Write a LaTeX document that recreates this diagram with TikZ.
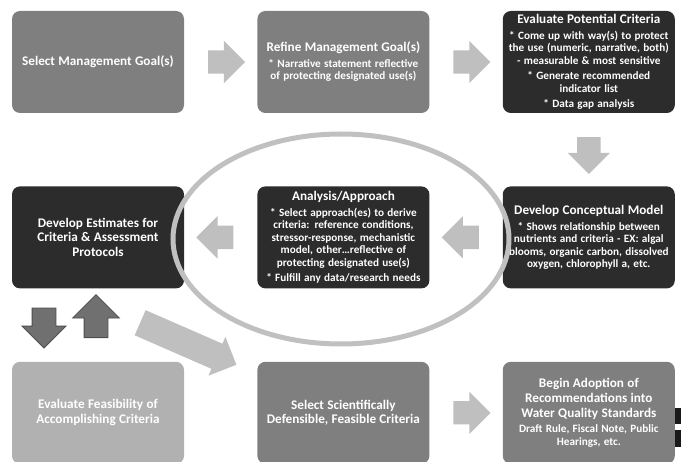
\documentclass[tikz,border=0pt]{standalone}
\usepackage{fontspec}
\setmainfont{Carlito}
\usetikzlibrary{shapes.arrows,positioning,calc}
\definecolor{stepmid}{HTML}{7F7F7F}
\definecolor{stepdark}{HTML}{2C2C2C}
\definecolor{steplight}{HTML}{B1B1B1}
\definecolor{flowgray}{HTML}{BFBFBF}
\definecolor{loopgray}{HTML}{707070}
\definecolor{loopedge}{HTML}{4D4D4D}
\definecolor{ringgray}{HTML}{C0C0C0}
\newcommand{\titlefont}{\bfseries\fontsize{13.2}{14.8}\selectfont}
\newcommand{\notefont}{\bfseries\fontsize{11.2}{12.5}\selectfont}
\newcommand{\steptitle}[1]{{\titlefont #1\par}}
\newcommand{\stepnote}[1]{{\notefont\vspace{3pt}#1\par}}
\tikzset{
  stepbox/.style={
    rectangle, rounded corners=8pt, minimum width=172pt, minimum height=102pt,
    inner sep=2pt, text width=168pt, align=center, text=white
  },
  midbox/.style={stepbox, fill=stepmid},
  darkbox/.style={stepbox, fill=stepdark},
  lightbox/.style={stepbox, fill=steplight},
  flowarrow/.style={
    single arrow, fill=flowgray, draw=none, inner sep=11.5pt,
    single arrow head extend=9.5pt, minimum height=37pt
  },
  looparrow/.style={
    single arrow, fill=loopgray, draw=loopedge, line width=0.8pt, inner sep=11.5pt,
    single arrow head extend=10pt, minimum height=40pt
  },
  ring/.style={draw=ringgray, line width=5pt}
}

\begin{document}
\begin{tikzpicture}[x=1pt,y=-1pt,node distance=73pt]
\useasboundingbox (0,0) rectangle (681,462);
\node[midbox] (selgoal) at (98,62) {\steptitle{Select Management Goal(s)}};
\node[midbox, right=of selgoal] (refgoal) {\steptitle{Refine Management Goal(s)}\stepnote{* Narrative statement reflective\\of protecting designated use(s)}};
\node[darkbox, right=of refgoal] (evalcrit) {\steptitle{Evaluate Potential Criteria}\stepnote{* Come up with way(s) to protect\\the use (numeric, narrative, both)\\- measurable \& most sensitive}\stepnote{* Generate recommended\\indicator list}\stepnote{* Data gap analysis}};
\node[darkbox, below=of selgoal] (devest) {\steptitle{Develop Estimates for\\Criteria \& Assessment\\Protocols}};
\node[darkbox, below=of refgoal] (analysis) {\steptitle{Analysis/Approach}\stepnote{* Select approach(es) to derive\\criteria: reference conditions,\\stressor-response, mechanistic\\model, other…reflective of\\protecting designated use(s)}\stepnote{* Fulfill any data/research needs}};
\node[darkbox, below=of evalcrit] (concept) {\steptitle{Develop Conceptual Model}\stepnote{* Shows relationship between\\nutrients and criteria - EX: algal\\blooms, organic carbon, dissolved\\oxygen, chlorophyll a, etc.}};
\node[lightbox, below=of devest] (feas) {\steptitle{Evaluate Feasibility of\\Accomplishing Criteria}};
\node[midbox, below=of analysis] (scidef) {\steptitle{Select Scientifically\\Defensible, Feasible Criteria}};
\node[midbox, below=of concept] (adopt) {\steptitle{Begin Adoption of\\Recommendations into\\Water Quality Standards}\stepnote{Draft Rule, Fiscal Note, Public\\Hearings, etc.}};
\node[flowarrow] (a1) at ($(selgoal.east)!0.5!(refgoal.west)$) {};
\node[flowarrow] (a2) at ($(refgoal.east)!0.5!(evalcrit.west)$) {};
\node[flowarrow, shape border rotate=270] (a3) at ($(evalcrit.south)!0.5!(concept.north)$) {};
\node[flowarrow, shape border rotate=180] (a4) at ($(concept.west)!0.5!(analysis.east)$) {};
\node[flowarrow, shape border rotate=180] (a5) at ($(analysis.west)!0.5!(devest.east)$) {};
\node[flowarrow] (a6) at ($(scidef.east)!0.5!(adopt.west)$) {};
\node[looparrow, shape border rotate=270] (down) at ($(devest.south)!0.5!(feas.north)+(-54,-3)$) {};
\node[looparrow, shape border rotate=90, single arrow head extend=11.5pt, minimum height=43pt] (up) at ($(devest.south)!0.5!(feas.north)+(-2,-3)$) {};
\node[flowarrow, inner sep=13.5pt, single arrow head extend=7.5pt, minimum height=105pt, rotate=-23.6] (diag) at (182,341) {};
\draw[ring] (341,239) ellipse [x radius=168pt, y radius=105pt];
\fill[black!90] (675,408) rectangle (681,424);
\fill[black!90] (675,430) rectangle (681,447);
\end{tikzpicture}
\end{document}
